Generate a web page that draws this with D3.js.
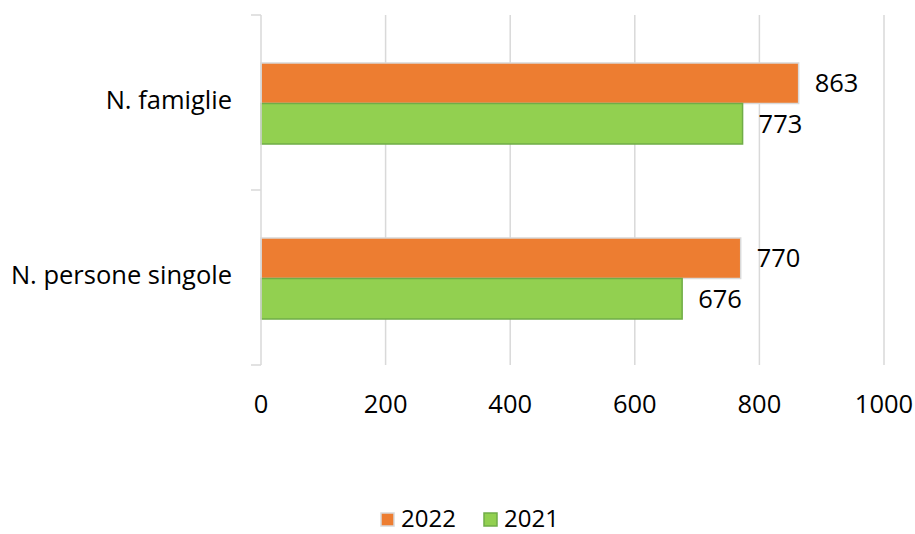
<!DOCTYPE html>
<html><head><meta charset="utf-8">
<script src="https://cdn.jsdelivr.net/npm/d3@7"></script>
<style>body{margin:0;background:#fff}svg{display:block}text{font-family:"Open Sans",sans-serif;fill:#000}</style>
</head><body>
<script>
const categories = ["N. famiglie", "N. persone singole"];
const seriesNames = ["2022", "2021"];
const values2022 = [863, 770];
const values2021 = [773, 676];
const xTicks = [0, 200, 400, 600, 800, 1000];

const fills = {"2022": "#ED7D31", "2021": "#92D050"};
const strokes = {"2022": "#D9D9D9", "2021": "#70AD47"};
const seriesValues = {"2022": values2022, "2021": values2021};
const FS = 25.5;

const W = 915, H = 534;
const svg = d3.select("body").append("svg").attr("width", W).attr("height", H);

const x = d3.scaleLinear().domain([0, 1000]).range([261, 884]);
const y = d3.scaleBand().domain(categories).range([15, 365]).paddingInner(0.537).paddingOuter(0.2685);
const ySub = d3.scaleBand().domain(seriesNames).range([0, y.bandwidth()]);

// gridlines
svg.append("g").selectAll("line").data(xTicks.slice(1)).join("line")
  .attr("x1", d => x(d)).attr("x2", d => x(d))
  .attr("y1", 15).attr("y2", 365)
  .attr("stroke", "#D9D9D9").attr("stroke-width", 1.5);

// bars
const groups = svg.append("g").selectAll("g").data(categories).join("g")
  .attr("transform", d => `translate(0,${y(d) + 1})`);
seriesNames.forEach(s => {
  groups.append("rect")
    .attr("x", x(0))
    .attr("y", ySub(s))
    .attr("width", (d, i) => x(seriesValues[s][i]) - x(0))
    .attr("height", ySub.bandwidth())
    .attr("fill", fills[s])
    .attr("stroke", strokes[s]).attr("stroke-width", 1.5);
  groups.append("text")
    .attr("x", (d, i) => x(seriesValues[s][i]) + 16)
    .attr("y", ySub(s) + ySub.bandwidth() / 2 + 2)
    .attr("dominant-baseline", "middle")
    .attr("font-size", FS)
    .text((d, i) => seriesValues[s][i]);
});

// y axis
const yAxisG = svg.append("g");
yAxisG.append("line").attr("x1", x(0)).attr("x2", x(0)).attr("y1", 15).attr("y2", 365)
  .attr("stroke", "#D9D9D9").attr("stroke-width", 1.5);
const boundaries = [15].concat(categories.map(c => y(c) + y.bandwidth() + y.step() * y.paddingInner() / 2).slice(0, -1)).concat([365]);
yAxisG.selectAll("line.t").data(boundaries).join("line").attr("class", "t")
  .attr("x1", x(0) - 10).attr("x2", x(0)).attr("y1", d => d).attr("y2", d => d)
  .attr("stroke", "#D9D9D9").attr("stroke-width", 1.5);
yAxisG.selectAll("text").data(categories).join("text")
  .attr("x", 232).attr("y", d => y(d) + y.bandwidth() / 2)
  .attr("text-anchor", "end").attr("dominant-baseline", "middle")
  .attr("font-size", FS).text(d => d);

// x tick labels
svg.append("g").selectAll("text").data(xTicks).join("text")
  .attr("x", d => x(d)).attr("y", 406)
  .attr("text-anchor", "middle").attr("dominant-baseline", "middle")
  .attr("font-size", FS).text(d => d);

// legend
const legend = [{s: "2022", x: 381}, {s: "2021", x: 484}];
const lg = svg.append("g").selectAll("g").data(legend).join("g");
lg.append("rect").attr("x", d => d.x).attr("y", 513).attr("width", 13).attr("height", 13)
  .attr("fill", d => fills[d.s]).attr("stroke", d => strokes[d.s]).attr("stroke-width", 1.5);
lg.append("text").attr("x", d => d.x + 20).attr("y", 527)
  .attr("font-size", 24).text(d => d.s);
</script>
</body></html>
